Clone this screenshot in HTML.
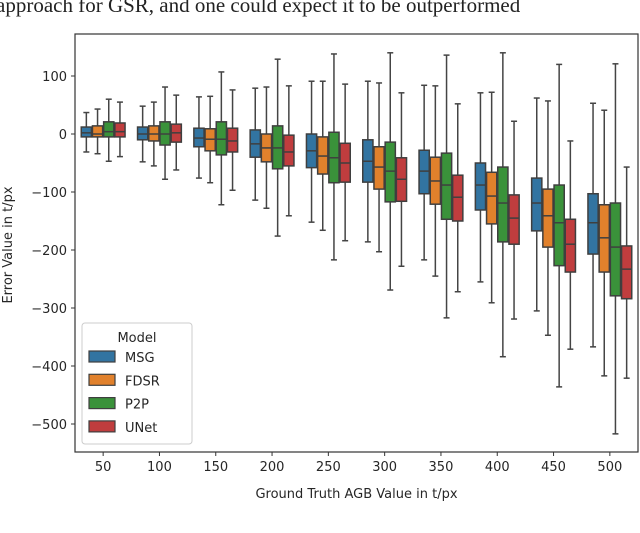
<!DOCTYPE html>
<html><head><meta charset="utf-8"><style>
html,body{margin:0;padding:0;background:#fff;width:640px;height:533px;overflow:hidden}
svg{display:block}
.t{font-family:"DejaVu Sans","Liberation Sans",sans-serif;font-size:13px;fill:#262626}
</style></head><body>
<svg id="chart" width="640" height="533" viewBox="0 0 640 533">
<text x="-4" y="12" font-family="Liberation Serif,serif" font-size="21" fill="#222">approach for GSR, and one could expect it to be outperformed</text>
<g id="plot"></g>
</svg>
<script>
const categories=["50","100","150","200","250","300","350","400","450","500"];
const models=["MSG","FDSR","P2P","UNet"];
const colors=["#3274a1","#e1812c","#3a923a","#c03d3e"];
const yTicks=[100,0,-100,-200,-300,-400,-500];
// [low whisker, q1, median, q3, high whisker]
const msg=[[-31,-5,2,12,37],[-48,-10,0,12,48],[-76,-22,-7,10,64],[-114,-40,-17,7,79],[-152,-58,-29,0,91],[-186,-83,-47,-10,91],[-217,-103,-64,-28,84],[-255,-131,-88,-50,71],[-305,-167,-119,-76,62],[-367,-207,-153,-103,53]];
const fdsr=[[-34,-5,0,14,43],[-55,-12,0,14,55],[-84,-29,-9,9,65],[-128,-48,-24,0,81],[-166,-69,-38,-5,91],[-203,-95,-57,-22,88],[-245,-121,-81,-40,83],[-291,-155,-107,-66,72],[-347,-195,-141,-95,57],[-417,-238,-179,-122,41]];
const p2p=[[-47,-5,4,21,60],[-78,-19,0,21,81],[-122,-36,-9,21,107],[-176,-60,-24,14,129],[-217,-84,-41,3,138],[-269,-117,-64,-14,140],[-317,-147,-88,-33,136],[-384,-186,-119,-57,140],[-436,-227,-153,-88,120],[-517,-279,-195,-119,121]];
const unet=[[-39,-5,4,19,55],[-62,-14,2,17,67],[-97,-31,-12,10,76],[-141,-55,-31,-2,83],[-184,-83,-50,-16,86],[-228,-116,-78,-41,71],[-272,-150,-109,-71,52],[-319,-190,-145,-105,22],[-371,-238,-190,-147,-12],[-421,-284,-233,-193,-57]];
const series=[msg,fdsr,p2p,unet];

const L=75,R=638,T=34,B=452;
const y=v=>134-v*0.58;
const step=(R-L)/categories.length;
const xc=i=>L+step*(i+0.5);
const NS="http://www.w3.org/2000/svg";
const g=document.getElementById('plot');
function el(tag,attrs,parent){const e=document.createElementNS(NS,tag);for(const k in attrs)e.setAttribute(k,attrs[k]);(parent||g).appendChild(e);return e;}

const frame=el('rect',{x:L,y:T,width:R-L,height:B-T,fill:'none',stroke:'#333','stroke-width':1.2});



yTicks.forEach(v=>{
  const tk=el('line',{x1:L-4,x2:L,y1:y(v),y2:y(v),stroke:'#333'});
  
  
  const tx=el('text',{x:L-8,y:y(v)+5,'text-anchor':'end',class:'t'});
  tx.textContent=(v<0?'\u2212'+(-v):String(v));
  
  
});
categories.forEach((c,i)=>{
  const tk=el('line',{x1:xc(i),x2:xc(i),y1:B,y2:B+4,stroke:'#333'});
  
  
  const tx=el('text',{x:xc(i),y:B+19,'text-anchor':'middle',class:'t'});
  tx.textContent=c;
  
  
});
const bw=11.2, gw=bw*4;
series.forEach((s,m)=>{
  s.forEach((d,i)=>{
    const cx=xc(i)-gw/2+bw*(m+0.5);
    const grp=el('g',{});
    
    
    el('line',{x1:cx,x2:cx,y1:y(d[4]),y2:y(d[3]),stroke:'#444','stroke-width':1.5},grp);
    el('line',{x1:cx,x2:cx,y1:y(d[1]),y2:y(d[0]),stroke:'#444','stroke-width':1.5},grp);
    el('line',{x1:cx-3,x2:cx+3,y1:y(d[4]),y2:y(d[4]),stroke:'#444','stroke-width':1.5},grp);
    el('line',{x1:cx-3,x2:cx+3,y1:y(d[0]),y2:y(d[0]),stroke:'#444','stroke-width':1.5},grp);
    el('rect',{x:cx-bw/2+0.5,y:y(d[3]),width:bw-1,height:y(d[1])-y(d[3]),fill:colors[m],stroke:'#3f3f3f','stroke-width':1.5},grp);
    el('line',{x1:cx-bw/2+0.5,x2:cx+bw/2-0.5,y1:y(d[2]),y2:y(d[2]),stroke:'#3f3f3f','stroke-width':1.5},grp);
  });
});
const xl=el('text',{x:(L+R)/2,y:498,'text-anchor':'middle',class:'t'});
xl.textContent='Ground Truth AGB Value in t/px';


const yl=el('text',{x:0,y:0,'text-anchor':'middle',class:'t',transform:'translate(12,245) rotate(-90)'});
yl.textContent='Error Value in t/px';



const lg=el('g',{});


el('rect',{x:82,y:323,width:110,height:121,rx:3,fill:'#fff','fill-opacity':0.85,stroke:'#ccc'},lg);
const lt=el('text',{x:137,y:342,'text-anchor':'middle',class:'t'},lg);
lt.textContent='Model';


models.forEach((n,k)=>{
  const ey=351+k*23.3;
  const e=el('g',{},lg);
  
  
  el('rect',{x:89,y:ey,width:26,height:11,fill:colors[k],stroke:'#3f3f3f','stroke-width':1.2},e);
  const t=el('text',{x:125,y:ey+11,class:'t'},e);
  t.textContent=n;
});
</script>
</body></html>
